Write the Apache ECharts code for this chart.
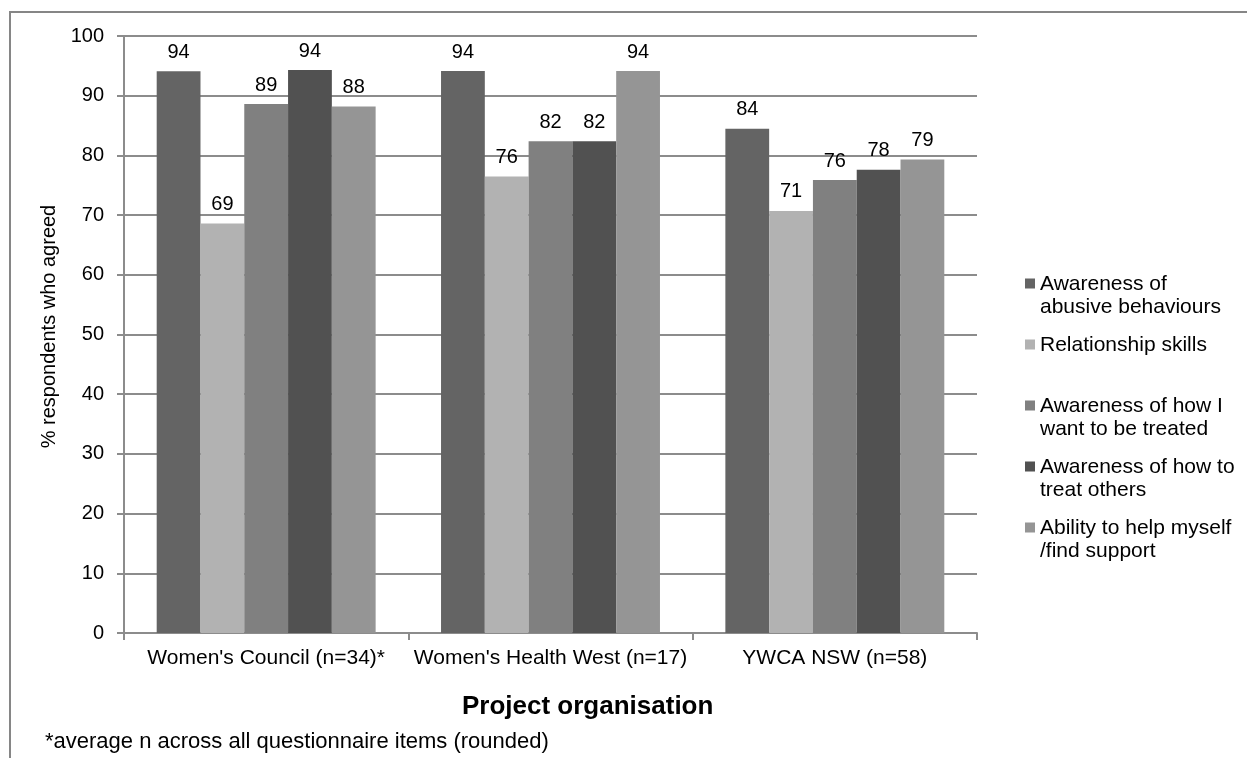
<!DOCTYPE html>
<html>
<head>
<meta charset="utf-8">
<script src="https://cdn.jsdelivr.net/npm/echarts@6/dist/echarts.min.js"></script>
<style>
  html, body { margin: 0; padding: 0; background: #fff; }
  #chart { width: 1247px; height: 758px; }
</style>
</head>
<body>
<div id="chart"></div>
<script>
// Project organisations (x categories)
const categories = ['Women\'s Council (n=34)*', 'Women\'s Health West (n=17)', 'YWCA NSW (n=58)'];

// Series names and the wrapped text used in the legend
const seriesNames = [
  'Awareness of abusive behaviours',
  'Relationship skills',
  'Awareness of how I want to be treated',
  'Awareness of how to treat others',
  'Ability to help myself /find support'
];
const legendText = [
  'Awareness of\nabusive behaviours',
  'Relationship skills\n',
  'Awareness of how I\nwant to be treated',
  'Awareness of how to\ntreat others',
  'Ability to help myself\n/find support'
];

// % respondents who agreed, per organisation
const abusiveBehaviours = [94.1, 94.12, 84.48];
const relationshipSkills = [68.6, 76.47, 70.69];
const wantToBeTreated = [88.6, 82.35, 75.86];
const treatOthers = [94.3, 82.35, 77.59];
const helpMyself = [88.2, 94.12, 79.31];

// y axis ticks
const yTicks = [0, 10, 20, 30, 40, 50, 60, 70, 80, 90, 100];

const seriesValues = [abusiveBehaviours, relationshipSkills, wantToBeTreated, treatOthers, helpMyself];
const colors = ['#646464', '#b2b2b2', '#808080', '#515151', '#959595'];

const FONT = 'Liberation Sans, Arial, sans-serif';
const GRID = '#8c8c8c';

const chart = echarts.init(document.getElementById('chart'), null, { renderer: 'canvas' });

chart.setOption({
  animation: false,
  backgroundColor: '#fff',
  textStyle: { fontFamily: FONT, color: '#000' },
  graphic: [{
    type: 'rect',
    shape: { x: 10, y: 12, width: 1400, height: 900 },
    style: { fill: 'none', stroke: '#868686', lineWidth: 2 },
    silent: true
  }],
  title: [{
    text: 'Project organisation',
    left: 457,
    top: 689,
    textStyle: { fontFamily: FONT, fontSize: 26, fontWeight: 'bold', color: '#000' }
  }, {
    text: '*average n across all questionnaire items (rounded)',
    left: 40,
    top: 726,
    textStyle: { fontFamily: FONT, fontSize: 22, fontWeight: 'normal', color: '#000' }
  }],
  legend: {
    orient: 'vertical',
    left: 1025,
    top: 273,
    padding: 0,
    itemGap: 16,
    itemWidth: 10,
    itemHeight: 34,
    icon: 'path://M0,0h10v10h-10z M0,33.99h0.01v0.01h-0.01z',
    data: seriesNames,
    formatter: name => legendText[seriesNames.indexOf(name)],
    textStyle: { fontFamily: FONT, fontSize: 21, lineHeight: 22.5, color: '#000' }
  },
  grid: { left: 124, right: 270, top: 36, bottom: 125, containLabel: false },
  xAxis: {
    type: 'category',
    data: categories,
    axisLine: { lineStyle: { color: GRID, width: 2 } },
    axisTick: { show: true, length: 7, lineStyle: { color: GRID, width: 2 } },
    axisLabel: { fontFamily: FONT, fontSize: 21, color: '#000', margin: 15, interval: 0 }
  },
  yAxis: {
    type: 'value',
    min: yTicks[0],
    max: yTicks[yTicks.length - 1],
    interval: 10,
    name: '% respondents who agreed',
    nameLocation: 'middle',
    nameGap: 64,
    nameTextStyle: { fontFamily: FONT, fontSize: 20, color: '#000', padding: [0, 0, 0, 16] },
    axisLine: { show: true, lineStyle: { color: GRID, width: 2 } },
    axisTick: { show: true, length: 7, lineStyle: { color: GRID, width: 2 } },
    axisLabel: { fontFamily: FONT, fontSize: 20, color: '#000', margin: 20 },
    splitLine: { lineStyle: { color: GRID, width: 2 } }
  },
  series: seriesNames.map((name, i) => ({
    name,
    type: 'bar',
    data: seriesValues[i],
    barGap: '0%',
    barCategoryGap: '23%',
    itemStyle: { color: colors[i] },
    label: {
      show: true,
      position: 'top',
      distance: 9,
      fontFamily: FONT,
      fontSize: 20,
      color: '#000',
      formatter: p => Math.round(p.value)
    }
  }))
});
</script>
</body>
</html>
